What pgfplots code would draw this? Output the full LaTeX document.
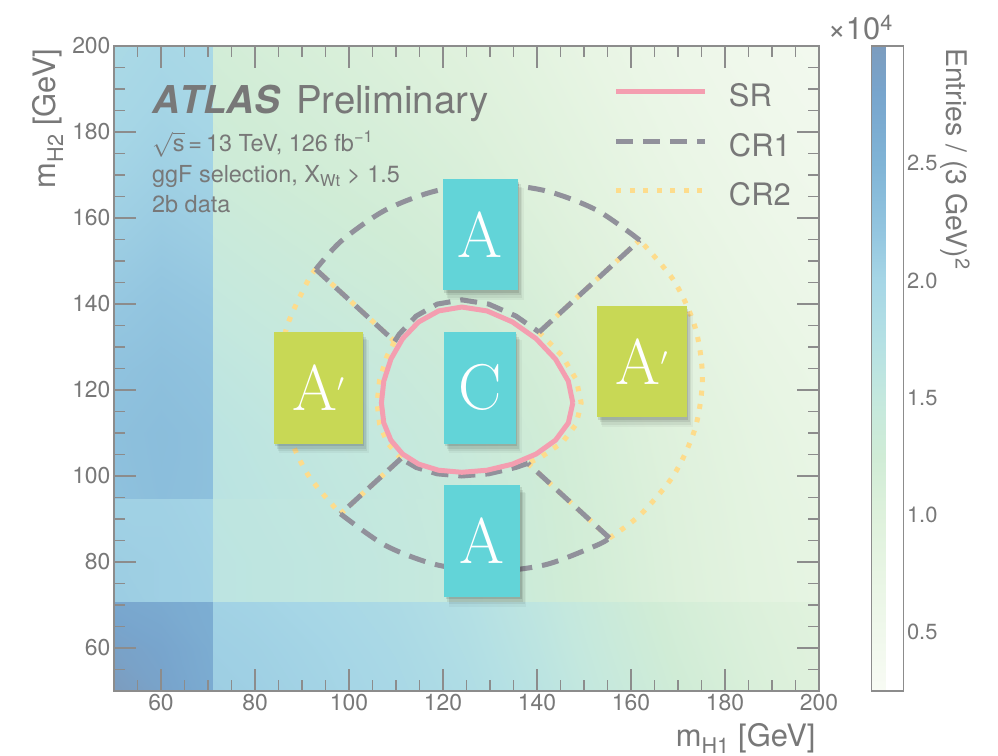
\documentclass[border=0pt]{standalone}
\usepackage{fontspec}
\setsansfont{TeX Gyre Heros}
\renewcommand{\familydefault}{\sfdefault}
\usepackage{pgfplots}
\pgfplotsset{compat=1.18}
\usetikzlibrary{shadows}

\definecolor{txt}{RGB}{120,120,120}
\definecolor{frame}{RGB}{140,140,140}
\definecolor{srpink}{RGB}{244,158,176}
\definecolor{crgray}{RGB}{145,145,155}
\definecolor{cryellow}{RGB}{253,220,140}
\definecolor{boxcyan}{RGB}{98,212,216}
\definecolor{boxlime}{RGB}{200,216,85}

\newcommand\fs[1]{\fontsize{#1}{#1}\selectfont}
\newcommand\Aprime{A\raisebox{0.16em}{$^{\prime}$}}

\pgfplotsset{
  colormap={entries}{
    rgb255(25)=(248,251,244) rgb255(50)=(240,248,236) rgb255(75)=(232,245,228)
    rgb255(100)=(222,241,220) rgb255(125)=(208,236,214) rgb255(150)=(196,232,222)
    rgb255(175)=(180,224,228) rgb255(200)=(166,214,230) rgb255(220)=(148,198,224)
    rgb255(250)=(128,180,214) rgb255(280)=(120,165,205) rgb255(300)=(124,156,190)},
}
\tikzset{
  srline/.style={srpink, line width=5bp},
  cr1line/.style={crgray, line width=5bp, dash pattern=on 17bp off 10bp},
  cr2line/.style={cryellow, line width=5bp, dash pattern=on 5bp off 8.5bp},
  regbox/.style={inner sep=0pt, text=white, font=\rmfamily\fs{65},
    drop shadow={shadow xshift=1.5bp, shadow yshift=-2.5bp, opacity=0.10, fill=black},
    drop shadow={shadow xshift=3bp, shadow yshift=-5bp, opacity=0.08, fill=black},
    drop shadow={shadow xshift=4.5bp, shadow yshift=-7.5bp, opacity=0.06, fill=black},
    drop shadow={shadow xshift=5.5bp, shadow yshift=-9bp, opacity=0.04, fill=black, shadow scale=1.01}},
  infotext/.style={anchor=base west, inner sep=0pt, text=txt},
}

% entries per (3 GeV)^2 in units of 10^4, sampled on a grid of (m_H1, m_H2) nodes
\pgfplotstableread{
x y c
50 50 3.00
60 50 2.85
70.99 50 2.68
71 50 2.10
80 50 2.08
95 50 2.03
110 50 1.96
125 50 1.84
140 50 1.66
155 50 1.45
170 50 1.26
185 50 1.10
200 50 0.98
50 60 2.88
60 60 2.80
70.99 60 2.65
71 60 2.08
80 60 2.06
95 60 2.01
110 60 1.93
125 60 1.80
140 60 1.62
155 60 1.41
170 60 1.22
185 60 1.07
200 60 0.96
50 70.99 2.75
60 70.99 2.70
70.99 70.99 2.62
71 70.99 2.05
80 70.99 2.03
95 70.99 1.97
110 70.99 1.89
125 70.99 1.76
140 70.99 1.58
155 70.99 1.37
170 70.99 1.18
185 70.99 1.04
200 70.99 0.93
50 71 2.12
60 71 2.08
70.99 71 2.06
71 71 1.62
80 71 1.60
95 71 1.56
110 71 1.51
125 71 1.43
140 71 1.32
155 71 1.17
170 71 1.02
185 71 0.89
200 71 0.80
50 80 2.10
60 80 2.08
70.99 80 2.05
71 80 1.62
80 80 1.60
95 80 1.56
110 80 1.51
125 80 1.43
140 80 1.31
155 80 1.16
170 80 1.01
185 80 0.88
200 80 0.79
50 94.99 2.06
60 94.99 2.06
70.99 94.99 2.03
71 94.99 1.60
80 94.99 1.58
95 94.99 1.54
110 94.99 1.49
125 94.99 1.41
140 94.99 1.29
155 94.99 1.14
170 94.99 0.99
185 94.99 0.86
200 94.99 0.77
50 95 2.28
60 95 2.33
70.99 95 2.30
71 95 1.66
80 95 1.62
95 95 1.56
110 95 1.50
125 95 1.42
140 95 1.30
155 95 1.14
170 95 0.99
185 95 0.86
200 95 0.76
50 110 2.30
60 110 2.34
70.99 110 2.30
71 110 1.63
80 110 1.59
95 110 1.53
110 110 1.47
125 110 1.39
140 110 1.27
155 110 1.11
170 110 0.96
185 110 0.83
200 110 0.73
50 125 2.26
60 125 2.30
70.99 125 2.26
71 125 1.57
80 125 1.53
95 125 1.47
110 125 1.41
125 125 1.33
140 125 1.21
155 125 1.05
170 125 0.91
185 125 0.78
200 125 0.68
50 140 2.18
60 140 2.23
70.99 140 2.19
71 140 1.49
80 140 1.45
95 140 1.39
110 140 1.33
125 140 1.25
140 140 1.13
155 140 0.98
170 140 0.84
185 140 0.72
200 140 0.62
50 155 2.10
60 155 2.15
70.99 155 2.11
71 155 1.41
80 155 1.37
95 155 1.31
110 155 1.25
125 155 1.17
140 155 1.05
155 155 0.91
170 155 0.78
185 155 0.66
200 155 0.57
50 170 2.03
60 170 2.08
70.99 170 2.04
71 170 1.33
80 170 1.29
95 170 1.23
110 170 1.17
125 170 1.09
140 170 0.97
155 170 0.84
170 170 0.71
185 170 0.60
200 170 0.52
50 185 1.97
60 185 2.02
70.99 185 1.98
71 185 1.27
80 185 1.23
95 185 1.17
110 185 1.10
125 185 1.02
140 185 0.91
155 185 0.78
170 185 0.65
185 185 0.55
200 185 0.47
50 200 1.92
60 200 1.97
70.99 200 1.93
71 200 1.21
80 200 1.17
95 200 1.11
110 200 1.04
125 200 0.96
140 200 0.85
155 200 0.72
170 200 0.60
185 200 0.50
200 200 0.43
}\massmap

\begin{document}
\begin{tikzpicture}[font=\sffamily]
\useasboundingbox (-114bp,-65bp) rectangle (884bp,691bp);
\begin{axis}[
  at={(0,0)}, anchor=south west,
  scale only axis, width=705bp, height=645bp,
  xmin=50, xmax=200, ymin=50, ymax=200,
  axis on top,
  xtick={60,80,...,200}, ytick={60,80,...,200},
  minor xtick={50,55,...,200}, minor ytick={50,55,...,200},
  tick align=inside,
  major tick length=22bp, minor tick length=11bp,
  every tick/.style={frame, line width=1.4bp},
  axis line style={frame, line width=1.8bp},
  /pgf/number format/assume math mode=true,
  tick label style={font=\fs{23}, text=txt},
  xlabel={m\textsubscript{H1} [GeV]},
  ylabel={m\textsubscript{H2} [GeV]},
  label style={font=\fs{31}, text=txt},
  xlabel style={at={(axis description cs:1,0)}, anchor=base east, yshift=-55bp},
  ylabel style={at={(axis description cs:0,1)}, anchor=base east, xshift=1bp, yshift=58bp},
  colormap name=entries,
  point meta min=0.25, point meta max=3.0,
  colorbar,
  colorbar style={
    at={(parent axis.north east)}, anchor=north west, xshift=44bp,
    scale only axis, width=32bp, height=645bp,
    ytick={0.5,1,1.5,2,2.5}, yticklabels={0.5,1.0,1.5,2.0,2.5},
    minor ytick={}, major tick length=0pt,
    yticklabel pos=right,
    tick label style={font=\fs{22}, text=txt},
    axis line style={frame, line width=1.4bp},
    /pgf/number format/assume math mode=true,
  },
  legend style={at={(0.7092,0.952)}, anchor=north west, draw=none, fill=none,
    inner sep=0pt, outer sep=0pt, font=\fs{31}, text=txt,
    row sep=19.5bp, column sep=21bp,
    nodes={inner sep=0pt, text height=30bp, text depth=0bp, anchor=west}},
  legend cell align=left,
  legend image code/.code={\draw[#1] (0bp,0bp) -- (89bp,0bp);},
]
\addplot[surf, shader=interp, mesh/cols=13, point meta=explicit, forget plot]
  table[x=x, y=y, meta=c] {\massmap};

% CR2: left and right wedges
\addplot[cr2line, forget plot] coordinates {(109.7,131.3) (92.93,148.07)};
\addplot[cr2line, smooth, forget plot] coordinates {(92.93,148.07) (91.23,145.35) (86.73,134.5) (85.2,122.85) (86.73,111.2) (91.23,100.35) (98.2,91.2)};
\addplot[cr2line, forget plot] coordinates {(98.2,91.2) (111.05,104.05)};
\addplot[cr2line, forget plot] coordinates {(111.05,104.05) (108.09,107.83) (106.51,112.07) (105.98,117) (106.51,122.38) (108.09,127.87) (109.7,131.3)};
\addplot[cr2line, forget plot] coordinates {(138.05,102.95) (155.42,85.58)};
\addplot[cr2line, smooth, forget plot] coordinates {(155.42,85.58) (162.02,91.03) (169.17,100.35) (173.67,111.2) (175.2,122.85) (173.67,134.5) (169.17,145.35) (161.85,154.85)};
\addplot[cr2line, forget plot] coordinates {(161.85,154.85) (140.45,133.45)};
\addplot[cr2line, forget plot] coordinates {(140.45,133.45) (145.4,127.87) (148.36,122.38) (149.4,117) (148.36,112.07) (145.4,107.83) (140.94,104.45) (138.05,102.95)};

% CR1: top and bottom wedges
\addplot[cr1line, forget plot] coordinates {(140.45,133.45) (161.85,154.85)};
\addplot[cr1line, smooth, forget plot] coordinates {(161.85,154.85) (152.7,161.82) (141.85,166.32) (130.2,167.85) (118.55,166.32) (107.7,161.82) (98.38,154.67) (92.93,148.07)};
\addplot[cr1line, forget plot] coordinates {(92.93,148.07) (109.7,131.3)};
\addplot[cr1line, forget plot] coordinates {(109.7,131.3) (110.69,132.98) (114.29,137.2) (118.77,139.98) (124,140.96) (129.71,139.98) (135.52,137.2) (140.45,133.45)};
\addplot[cr1line, forget plot] coordinates {(111.05,104.05) (98.2,91.2)};
\addplot[cr1line, smooth, forget plot] coordinates {(98.2,91.2) (107.7,83.88) (118.55,79.38) (130.2,77.85) (141.85,79.38) (152.7,83.88) (155.42,85.58)};
\addplot[cr1line, forget plot] coordinates {(155.42,85.58) (138.05,102.95)};
\addplot[cr1line, forget plot] coordinates {(138.05,102.95) (135.52,101.99) (129.71,100.5) (124,100.0) (118.77,100.5) (114.29,101.99) (111.05,104.05)};

% SR: X_HH = 1.6
\addplot[srline, forget plot] coordinates {
  (147.62,117) (146.67,122.05) (143.94,127.17) (139.82,131.93) (134.78,135.82)
  (129.36,138.39) (124,139.29) (119.07,138.39) (114.81,135.82) (111.40,131.93)
  (108.91,127.17) (107.40,122.05) (106.90,117) (107.40,112.35) (108.91,108.33)
  (111.40,105.11) (114.81,102.76) (119.07,101.34) (124,100.86) (129.36,101.34)
  (134.78,102.76) (139.82,105.11) (143.94,108.33) (146.67,112.35) (147.62,117)};

\addlegendimage{srline}\addlegendentry{SR}
\addlegendimage{cr1line}\addlegendentry{CR1}
\addlegendimage{cr2line}\addlegendentry{CR2}

% region labels
\node[regbox, fill=boxcyan, minimum width=75bp, minimum height=111bp] at (axis cs:127.9,156.05) {A};
\node[regbox, fill=boxcyan, minimum width=72bp, minimum height=112bp] at (axis cs:127.8,120.5) {C};
\node[regbox, fill=boxcyan, minimum width=76bp, minimum height=112bp] at (axis cs:128.3,84.9) {A};
\node[regbox, fill=boxlime, minimum width=89bp, minimum height=112bp] at (axis cs:93.5,120.5) {\Aprime};
\node[regbox, fill=boxlime, minimum width=90bp, minimum height=111bp] at (axis cs:162.3,126.6) {\Aprime};
\end{axis}

\node[infotext, font=\fs{38.5}] at (38bp,577bp) {{\bfseries\itshape\addfontfeatures{Kerning=Off}ATLAS}\hspace{16bp}Preliminary};
\node[infotext, font=\fs{23.5}] at (38bp,539bp) {$\sqrt{\mbox{s}}$\,=\,13 TeV, 126 fb\textsuperscript{−1}};
\node[infotext, font=\fs{23.5}] at (38bp,508bp) {ggF selection, X\textsubscript{Wt} > 1.5};
\node[infotext, font=\fs{23.5}] at (38bp,478bp) {2b data};

\node[anchor=base east, inner sep=0pt, text=txt, font=\fs{31}] at (779bp,651bp) {×10\textsuperscript{4}};
\node[rotate=-90, anchor=north west, inner sep=0pt, text=txt, font=\fs{28.5}] at (856bp,643bp) {Entries / (3 GeV)\textsuperscript{2}};
\end{tikzpicture}
\end{document}
